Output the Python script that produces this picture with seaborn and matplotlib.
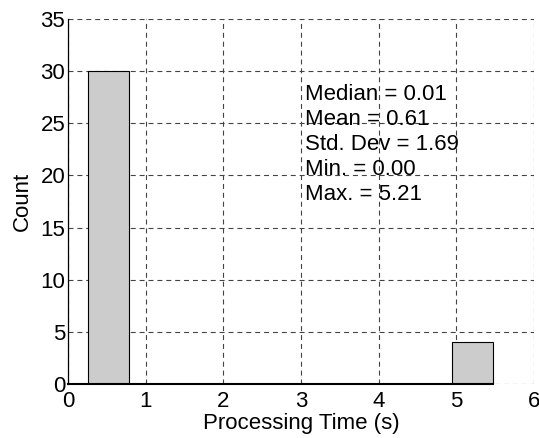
import numpy as np
import seaborn as sns
import matplotlib.pyplot as plt

# histogram: 10 bins between 0.26 and 5.47
bin_edges = [0.26, 0.781, 1.302, 1.823, 2.344, 2.865, 3.386, 3.907, 4.428, 4.949, 5.47]
counts = [30, 0, 0, 0, 0, 0, 0, 0, 0, 4]
stats_lines = ["Median = 0.01", "Mean = 0.61", "Std. Dev = 1.69", "Min. = 0.00", "Max. = 5.21"]
x_ticks = [0, 1, 2, 3, 4, 5, 6]
y_ticks = [0, 5, 10, 15, 20, 25, 30, 35]

centers = [(bin_edges[i] + bin_edges[i + 1]) / 2 for i in range(len(counts))]

sns.set_style("white")
plt.rcParams['font.family'] = ['Liberation Sans', 'DejaVu Sans']

fig = plt.figure(figsize=(5.39, 4.38), dpi=100)
ax = fig.add_axes([0.126, 0.123, 0.865, 0.834])

sns.histplot(x=centers, weights=counts, bins=bin_edges, ax=ax,
             color='#cccccc', alpha=1, edgecolor='black', linewidth=0.8)

ax.set_xlim(0, 6)
ax.set_ylim(0, 35)
ax.set_xticks(x_ticks)
ax.set_yticks(y_ticks)
ax.grid(True, linestyle=(0, (4.5, 3.5)), color='#444444', linewidth=0.8)
ax.set_axisbelow(True)
for s in ['top', 'right']:
    ax.spines[s].set_visible(False)
ax.spines['left'].set_color('black')
ax.spines['left'].set_linewidth(0.9)
ax.spines['bottom'].set_color('black')
ax.spines['bottom'].set_linewidth(1.5)
ax.spines['bottom'].set_bounds(0, bin_edges[-1])
ax.tick_params(axis='both', labelsize=16, length=0, colors='black')
ax.tick_params(axis='x', pad=5)
ax.tick_params(axis='y', pad=2)
ax.set_xlabel("Processing Time (s)", fontsize=16, labelpad=1, color='black')
ax.set_ylabel("Count", fontsize=16, labelpad=5, color='black')

ax.text(3.05, 28.75, "\n".join(stats_lines), fontsize=16, va='top', ha='left',
        linespacing=1.25, color='black')

fig.savefig("out.png", dpi=100)
